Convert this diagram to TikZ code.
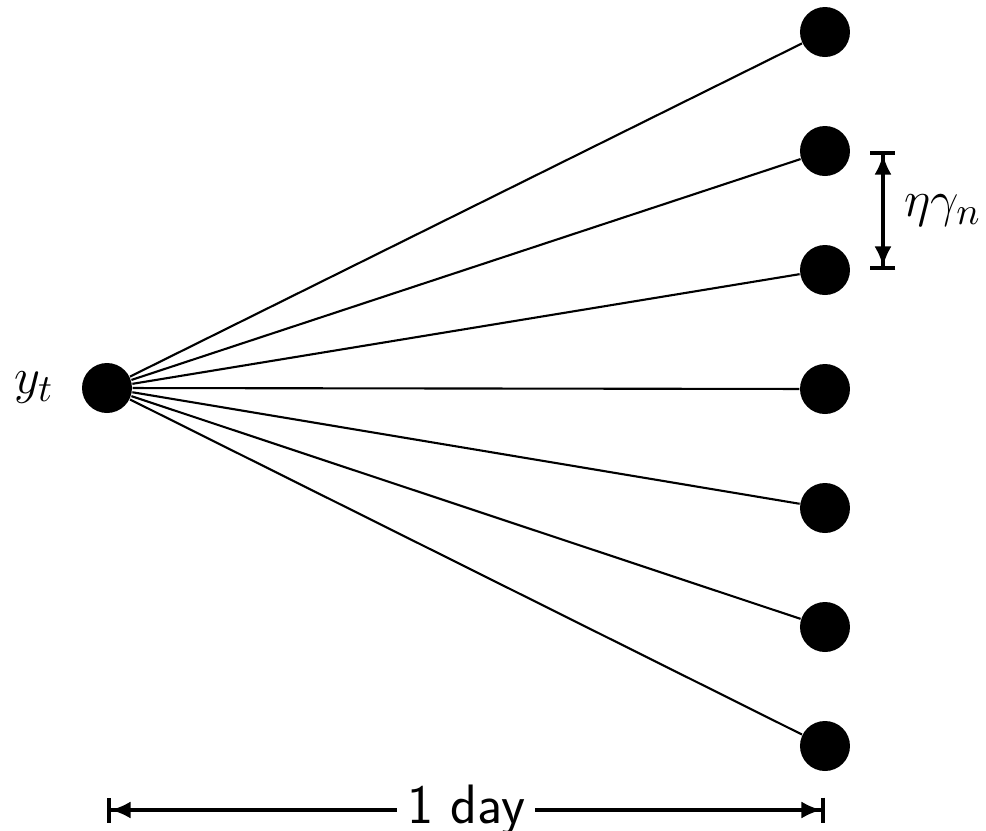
\documentclass[tikz,border=0pt]{standalone}
\usepackage{amsmath, amssymb}
\usepackage{tikz}
\usetikzlibrary{
  arrows.meta,
  positioning,
  calc
}
\tikzset{>=latex}
\tikzset{font=\fontsize{15.8}{19}\selectfont}
\tikzset{span/.style={line width=1pt,
  {Bar[width=2.5mm]Latex[length=2mm,width=1.7mm]}-{Latex[length=2mm,width=1.7mm]Bar[width=2.5mm]}}}

\begin{document}
\begin{tikzpicture}[dot/.style={circle, fill=black, minimum size=5mm, inner sep=0pt}]
            \useasboundingbox (0,0) rectangle (9.86,-8.31);
            \node[dot] (yt) at (1.07,-3.88) {};
            \node[left=1.5mm of yt] (ytlab) {$y_t$};
            \foreach \i in {1,...,7} {
                \node[dot] (r\i) at (8.25, {-0.32-1.19*(\i-1)}) {};
                \draw[semithick] (yt) -- (r\i);
            }
            \coordinate (gtop) at (8.83,-1.51);
            \coordinate (gbot) at (8.83,-2.70);
            \draw[span] (gtop) -- node[right, xshift=0.8mm] {$\eta\gamma_n$} (gbot);
            \coordinate (dstart) at (1.07,-8.10);
            \coordinate (dend) at (8.25,-8.10);
            \draw[span] (dstart) -- node[midway, fill=white, inner sep=1mm] {\sffamily 1 day} (dend);
        \end{tikzpicture}
\end{document}
